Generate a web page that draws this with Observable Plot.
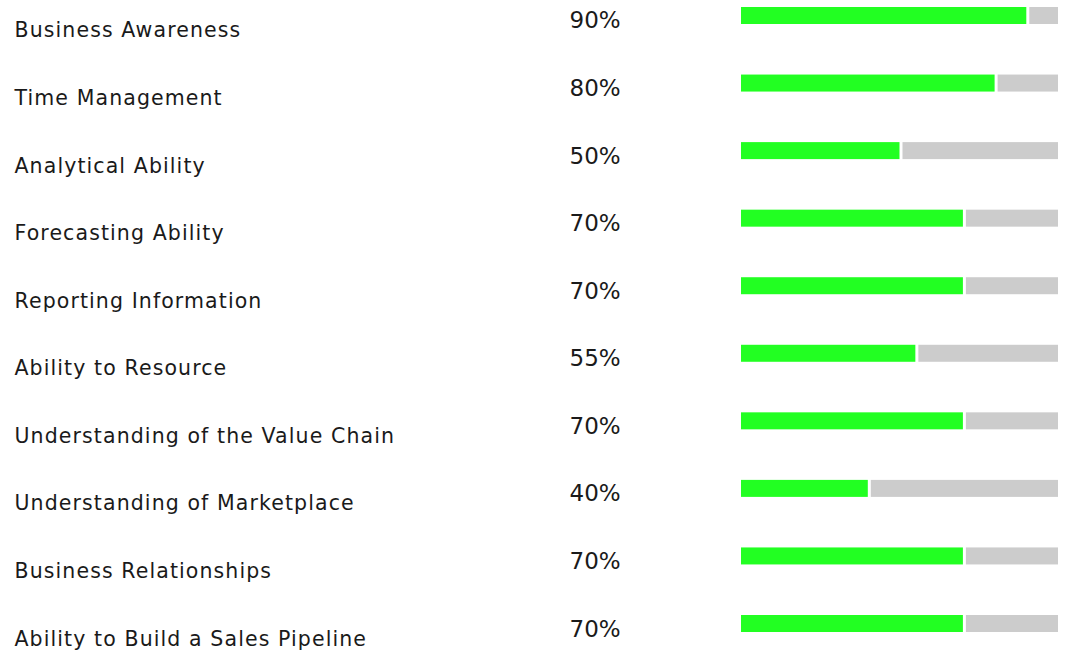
<!DOCTYPE html>
<html>
<head>
<meta charset="utf-8">
<script src="https://cdn.jsdelivr.net/npm/d3@7"></script>
<script src="https://cdn.jsdelivr.net/npm/@observablehq/plot@0.6"></script>
<style>
  html, body { margin: 0; padding: 0; background: #fff; }
</style>
</head>
<body>
<div id="chart"></div>
<script>
const skills = [
  "Business Awareness",
  "Time Management",
  "Analytical Ability",
  "Forecasting Ability",
  "Reporting Information",
  "Ability to Resource",
  "Understanding of the Value Chain",
  "Understanding of Marketplace",
  "Business Relationships",
  "Ability to Build a Sales Pipeline"
];
const values = [90, 80, 50, 70, 70, 55, 70, 40, 70, 70];
const maxValue = 100;

const data = skills.map((s, i) => ({skill: s, value: values[i], max: maxValue}));

const chart = Plot.plot({
  width: 1077,
  height: 651,
  marginLeft: 14,
  marginRight: 0,
  marginTop: 0,
  marginBottom: 0,
  style: {background: "#fff", fontFamily: "'DejaVu Sans', Verdana, sans-serif", color: "#1a1a1a"},
  x: {domain: [0, maxValue], range: [741, 1058], axis: null},
  y: {domain: skills, range: [7, 632], paddingInner: 0.7484, paddingOuter: 0, align: 0, round: false, axis: null},
  marks: [
    Plot.barX(data, {y: "skill", x1: "value", x2: "max", fill: "#cccccc", insetLeft: 3}),
    Plot.barX(data, {y: "skill", x1: 0, x2: "value", fill: "#22ff22"}),
    Plot.text(data, {
      y: "skill", text: "skill", frameAnchor: "left", textAnchor: "start",
      lineAnchor: "bottom", dy: 21.5, fontSize: 20.5, fill: "#1a1a1a"
    }),
    Plot.text(data, {
      y: "skill", text: d => d.value + "%", frameAnchor: "left", textAnchor: "start",
      lineAnchor: "bottom", dx: 555, dy: 12.5, fontSize: 23, fill: "#1a1a1a"
    })
  ]
});
const textGroups = chart.querySelectorAll('g[aria-label="text"]');
if (textGroups.length) textGroups[0].style.letterSpacing = "1.1px";
document.getElementById("chart").appendChild(chart);
</script>
</body>
</html>
